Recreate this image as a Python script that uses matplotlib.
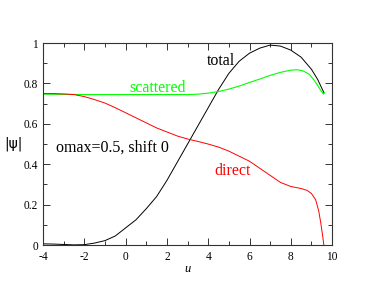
import matplotlib
matplotlib.use("Agg")
import matplotlib.pyplot as plt
import matplotlib.ticker as mtick

plt.rcParams['font.family'] = ['Liberation Serif', 'DejaVu Serif']
plt.rcParams['axes.unicode_minus'] = False

# curve samples
u_total = [-4, -3.5, -3, -2.5, -2, -1.5, -1, -0.5, 0, 0.5, 1, 1.5, 2, 2.5, 3,
           3.5, 4, 4.5, 5, 5.5, 6, 6.5, 7, 7.5, 8, 8.5, 9, 9.3, 9.6]
total = [0.006, 0.005, 0.003, 0.001, 0.002, 0.01, 0.022, 0.045, 0.085, 0.125,
         0.18, 0.24, 0.32, 0.41, 0.5, 0.59, 0.68, 0.77, 0.85, 0.91, 0.95,
         0.975, 0.99, 0.985, 0.965, 0.93, 0.87, 0.82, 0.755]

u_direct = [-4, -3.5, -3, -2.5, -2, -1.5, -1, -0.5, 0, 0.5, 1, 1.5, 2, 2.5, 3,
            3.5, 4, 4.5, 5, 5.5, 6, 6.5, 7, 7.5, 8, 8.5, 8.8, 9.0, 9.2, 9.35,
            9.45, 9.55, 9.6]
direct = [0.75, 0.75, 0.748, 0.745, 0.735, 0.72, 0.703, 0.68, 0.655, 0.63,
          0.605, 0.58, 0.56, 0.54, 0.525, 0.513, 0.5, 0.485, 0.465, 0.44,
          0.415, 0.38, 0.345, 0.31, 0.29, 0.28, 0.27, 0.255, 0.225, 0.17,
          0.11, 0.04, 0.0]

u_scat = [-4, -3, -2, -1, 0, 1, 2, 3, 3.5, 4, 4.5, 5, 5.5, 6, 6.5, 7, 7.5,
          8, 8.3, 8.6, 8.9, 9.1, 9.3, 9.5, 9.58, 9.63]
scattered = [0.747, 0.746, 0.745, 0.745, 0.745, 0.745, 0.745, 0.745, 0.747,
             0.752, 0.76, 0.772, 0.787, 0.805, 0.822, 0.84, 0.855, 0.866,
             0.868, 0.862, 0.845, 0.82, 0.79, 0.758, 0.747, 0.755]

fig = plt.figure(figsize=(3.74, 2.89), dpi=100)
ax = fig.add_axes([0.115, 0.152, 0.773, 0.699])

ax.plot(u_total, total, color='black', lw=0.7)
ax.plot(u_scat, scattered, color='#00ff00', lw=0.8)
ax.plot(u_direct, direct, color='red', lw=0.7)

ax.set_xlim(-4, 10)
ax.set_ylim(0, 1)
ax.xaxis.set_major_locator(mtick.MultipleLocator(2))
ax.xaxis.set_minor_locator(mtick.MultipleLocator(1))
ax.yaxis.set_major_locator(mtick.MultipleLocator(0.2))
ax.yaxis.set_minor_locator(mtick.MultipleLocator(0.1))
ax.yaxis.set_major_formatter(mtick.FuncFormatter(lambda v, p: "%g" % round(v, 1)))
ax.tick_params(which='both', direction='in', top=True, right=True,
               labelsize=8.3, color='#333333')
ax.tick_params(axis='x', pad=4)
ax.tick_params(axis='y', pad=3.5)
ax.tick_params(which='major', length=5, width=0.7)
ax.tick_params(which='minor', length=3, width=0.7)
for s in ax.spines.values():
    s.set_linewidth(0.8)
    s.set_color('#333333')

ax.set_xlabel("u", fontsize=9, style='italic', labelpad=0)
ax.set_ylabel("|\u03c8|", fontsize=10, rotation=0, labelpad=1, va='center',
              ha='right', family=['DejaVu Sans'])

ax.text(4.6, 0.91, "total", fontsize=11.5, ha='center', va='center')
ax.text(1.53, 0.78, "scattered", fontsize=11.5, color='#00ff00', ha='center', va='center')
ax.text(5.2, 0.365, "direct", fontsize=11.5, color='red', ha='center', va='center')
ax.text(-3.37, 0.48, "omax=0.5, shift 0", fontsize=11.5, ha='left', va='center')

fig.savefig("out.png", dpi=100)
